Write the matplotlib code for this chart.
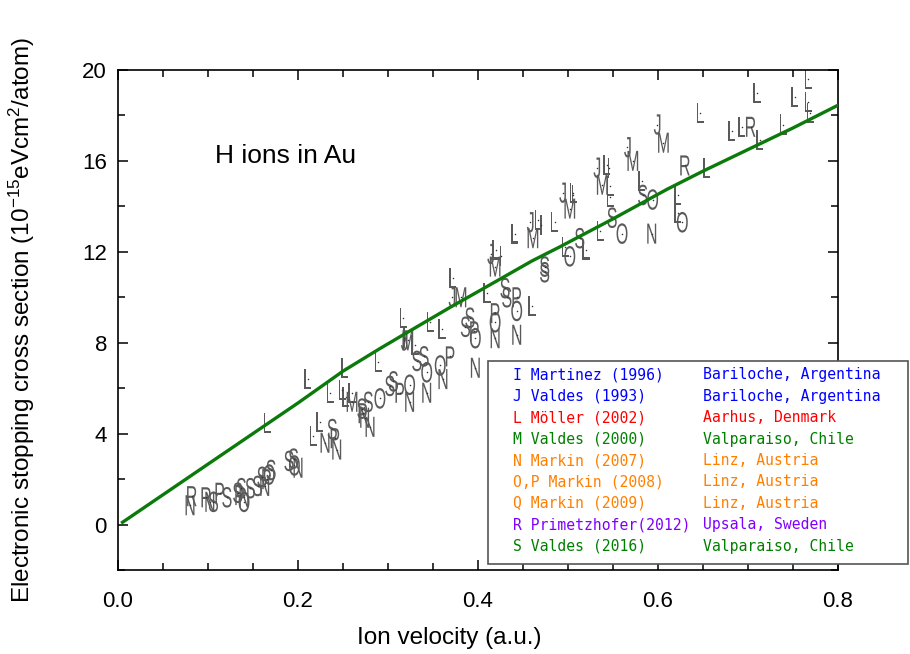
import matplotlib; matplotlib.use("Agg")
import matplotlib.pyplot as plt
from matplotlib.patches import Rectangle, PathPatch
from matplotlib.textpath import TextPath
from matplotlib.font_manager import FontProperties
from matplotlib.transforms import Affine2D, ScaledTranslation

plt.rcParams["font.family"] = ["Liberation Sans", "DejaVu Sans"]
plt.rcParams["mathtext.fontset"] = "custom"
plt.rcParams["mathtext.rm"] = "Liberation Sans"
plt.rcParams["mathtext.it"] = "Liberation Sans:italic"

# theory curve
line_x = [0.005, 0.10, 0.20, 0.25, 0.29, 0.32, 0.37, 0.40, 0.46, 0.49, 0.55, 0.61, 0.65, 0.70, 0.75, 0.80]
line_y = [0.1, 2.66, 5.35, 6.75, 7.72, 8.42, 9.58, 10.25, 11.6, 12.2, 13.45, 14.75, 15.55, 16.5, 17.45, 18.45]

# experimental points, one list per letter
I_x = [0.318, 0.425, 0.470, 0.505, 0.545]
I_y = [8.2, 11.8, 13.2, 14.5, 15.7]
J_x = [0.318, 0.371, 0.414, 0.458, 0.494, 0.532, 0.566, 0.599]
J_y = [8.1, 10.0, 11.9, 13.3, 14.6, 15.7, 16.6, 17.6]
L_x = [0.166, 0.211, 0.217, 0.224, 0.236, 0.249, 0.260, 0.253, 0.252, 0.289, 0.317, 0.330, 0.347,
       0.360, 0.372, 0.410, 0.420, 0.441, 0.460, 0.467, 0.485, 0.497, 0.506, 0.520, 0.536, 0.543,
       0.547, 0.547, 0.582, 0.622, 0.622, 0.647, 0.654, 0.682, 0.693, 0.713, 0.710, 0.739, 0.752,
       0.767, 0.767, 0.769]
L_y = [4.45, 6.4, 3.9, 4.5, 5.8, 5.9, 5.8, 5.6, 6.9, 7.15, 9.1, 7.9, 8.9,
       8.6, 10.85, 10.2, 12.1, 12.8, 9.6, 13.4, 13.3, 12.2, 14.6, 12.1, 12.9, 15.8,
       14.4, 14.9, 15.1, 14.5, 13.7, 18.1, 15.7, 17.3, 17.5, 16.9, 19.0, 17.6, 18.8,
       19.6, 18.6, 18.1]
M_x = [0.260, 0.322, 0.381, 0.419, 0.461, 0.502, 0.538, 0.572, 0.606]
M_y = [5.4, 8.1, 10.0, 11.35, 12.6, 13.9, 14.95, 16.0, 16.8]
N_x = [0.080, 0.102, 0.140, 0.163, 0.200, 0.230, 0.243, 0.274, 0.280, 0.324, 0.343, 0.361, 0.397,
       0.419, 0.443, 0.593]
N_y = [0.85, 1.0, 1.2, 1.7, 2.5, 3.6, 3.3, 4.7, 4.3, 5.4, 5.8, 6.4, 6.9, 8.2, 8.35, 12.8]
O_x = [0.140, 0.168, 0.196, 0.291, 0.324, 0.343, 0.358, 0.397, 0.419, 0.443, 0.502, 0.560, 0.594, 0.627]
O_y = [1.0, 2.2, 2.6, 5.55, 6.15, 6.7, 7.0, 8.2, 8.9, 9.4, 11.8, 12.8, 14.3, 13.3]
P_x = [0.113, 0.135, 0.165, 0.241, 0.272, 0.313, 0.369, 0.396, 0.419, 0.443]
P_y = [1.4, 1.3, 2.0, 3.8, 4.9, 5.8, 7.4, 8.5, 9.3, 10.0]
R_x = [0.082, 0.098, 0.630, 0.703]
R_y = [1.25, 1.2, 15.8, 17.5]
S_x = [0.106, 0.121, 0.133, 0.137, 0.147, 0.155, 0.160, 0.170, 0.190, 0.195, 0.238, 0.271, 0.278,
       0.302, 0.306, 0.332, 0.340, 0.386, 0.391, 0.430, 0.432, 0.474, 0.474, 0.513, 0.549, 0.583]
S_y = [1.0, 1.2, 1.4, 1.6, 1.6, 1.7, 2.1, 2.4, 2.8, 2.9, 4.2, 5.1, 5.4,
       6.1, 6.3, 7.2, 7.4, 8.7, 9.1, 10.4, 10.0, 11.35, 11.1, 12.6, 13.5, 14.5]

series = {"I": (I_x, I_y), "J": (J_x, J_y), "L": (L_x, L_y), "M": (M_x, M_y), "N": (N_x, N_y),
          "O": (O_x, O_y), "P": (P_x, P_y), "R": (R_x, R_y), "S": (S_x, S_y)}

legend_left = ["I Martinez (1996)", "J Valdes (1993)", "L Möller (2002)", "M Valdes (2000)",
               "N Markin (2007)", "O,P Markin (2008)", "Q Markin (2009)", "R Primetzhofer(2012)",
               "S Valdes (2016)"]
legend_right = ["Bariloche, Argentina", "Bariloche, Argentina", "Aarhus, Denmark",
                "Valparaiso, Chile", "Linz, Austria", "Linz, Austria", "Linz, Austria",
                "Upsala, Sweden", "Valparaiso, Chile"]
legend_colors = ["#0000ff", "#0000ff", "#ff0000", "#008000", "#ff8000", "#ff8000", "#ff8000",
                 "#8000ff", "#008000"]

DPI = 100
fig = plt.figure(figsize=(9.10, 6.54), dpi=DPI)
ax = fig.add_axes([0.1297, 0.1284, 0.7912, 0.7646])

ax.plot(line_x, line_y, color="#0b7a0b", lw=2.4, zorder=3)

# condensed letter markers: glyph paths squeezed horizontally
fp = FontProperties(family="Liberation Sans")
px = DPI / 72.0
for letter, (xs, ys) in series.items():
    tp = TextPath((0, 0), letter, size=21, prop=fp)
    ext = tp.get_extents()
    cx, cy = (ext.x0 + ext.x1) / 2, (ext.y0 + ext.y1) / 2
    for x, y in zip(xs, ys):
        tr = (Affine2D().translate(-cx, -cy).scale(px * 0.55, px)
              + ScaledTranslation(x, y, ax.transData))
        ax.add_patch(PathPatch(tp, transform=tr, facecolor="#5a5a5a", lw=0, zorder=2))
    ax.scatter(xs, ys, s=1.2, color="#333333", zorder=2, lw=0)

ax.text(0.108, 16.2, "H ions in Au", fontsize=19, va="center")

ax.set_xlim(0, 0.8)
ax.set_ylim(-2, 20)
ax.set_xticks([0.0, 0.2, 0.4, 0.6, 0.8])
ax.set_xticklabels(["0.0", "0.2", "0.4", "0.6", "0.8"])
ax.set_xticks([0.05 * i for i in range(17)], minor=True)
ax.set_yticks([0, 4, 8, 12, 16, 20])
ax.set_yticks([-2, 2, 6, 10, 14, 18], minor=True)
ax.tick_params(which="both", direction="in", top=True, right=True, width=1.1, labelsize=16)
ax.tick_params(which="major", length=7)
ax.tick_params(which="minor", length=5)
ax.tick_params(axis="x", which="major", pad=15)
ax.tick_params(axis="y", which="major", pad=8)
for sp in ax.spines.values():
    sp.set_linewidth(1.2)

ax.set_xlabel("Ion velocity (a.u.)", fontsize=17.5)
ax.xaxis.set_label_coords(0.46, -0.113)
ax.set_ylabel("Electronic stopping cross section (10$^{-15}$eVcm$^{2}$/atom)", fontsize=17.5)
ax.yaxis.set_label_coords(-0.112, 0.5)

# legend box, partly outside the axes
fig.patches.append(Rectangle((488 / 910, 1 - 564 / 654), 420 / 910, 203 / 654,
                             transform=fig.transFigure, facecolor="white",
                             edgecolor="#555555", lw=1.2, zorder=5))
for i, (a, b, c) in enumerate(zip(legend_left, legend_right, legend_colors)):
    yy = 1 - (375 + i * 21.4) / 654
    fig.text(513 / 910, yy, a, color=c, family="DejaVu Sans Mono", fontsize=10.6, va="center", zorder=6)
    fig.text(703 / 910, yy, b, color=c, family="DejaVu Sans Mono", fontsize=10.6, va="center", zorder=6)

fig.savefig("out.png", dpi=DPI)
